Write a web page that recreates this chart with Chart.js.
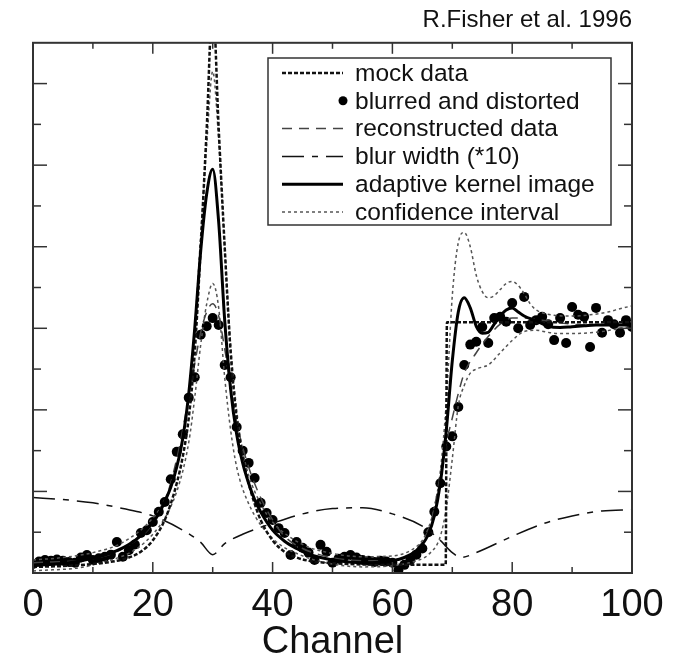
<!DOCTYPE html>
<html>
<head>
<meta charset="utf-8">
<script src="https://cdn.jsdelivr.net/npm/chart.js@4.4.0/dist/chart.umd.min.js"></script>
<style>
  html, body { margin: 0; padding: 0; background: #fff; }
  #wrap { width: 675px; height: 665px; }
</style>
</head>
<body>
<div id="wrap"><canvas id="fisher" width="675" height="665"></canvas></div>
<script>
// --- data (y in tick units, 13 intervals on the axis) ---
const xTicks = [0, 20, 40, 60, 80, 100];

const mockX = [0, 5, 10, 14, 16, 18, 20, 22, 23, 24, 25, 26, 27, 28, 29, 30, 31, 32, 33, 34, 35, 36, 37, 38, 40, 42, 44, 46, 50, 55, 60, 65, 68.9, 69.1, 75, 80, 85, 90, 95, 100];
const mockY = [0.15, 0.17, 0.22, 0.3, 0.38, 0.52, 0.8, 1.3, 1.7, 2.2, 2.85, 3.8, 5.4, 8.0, 10.9, 14, 10.9, 8.0, 5.4, 3.8, 2.85, 2.2, 1.7, 1.3, 0.8, 0.52, 0.38, 0.3, 0.24, 0.21, 0.2, 0.2, 0.2, 6.15, 6.15, 6.15, 6.15, 6.15, 6.15, 6.15];

// blurred and distorted: one point per channel 0..100
const blurredY = [
  0.22, 0.28, 0.32, 0.3, 0.33, 0.3, 0.27, 0.25, 0.38, 0.44,
  0.32, 0.36, 0.4, 0.45, 0.76, 0.4, 0.56, 0.7, 0.98, 1.05,
  1.25, 1.5, 1.74, 2.3, 2.97, 3.4, 4.3, 4.8, 5.84, 6.05,
  6.25, 6.08, 5.1, 4.8, 3.58, 3.0, 2.7, 2.33, 1.72, 1.47,
  1.3, 1.1, 0.98, 0.44, 0.76, 0.62, 0.5, 0.32, 0.69, 0.52,
  0.25, 0.35, 0.4, 0.44, 0.38, 0.32, 0.3, 0.27, 0.3, 0.28,
  0.25, 0.07, 0.2, 0.32, 0.45, 0.6, 1.0, 1.5, 2.2, 3.1,
  3.35, 4.07, 5.1, 5.6, 5.67, 6.03, 5.64, 6.25, 6.28, 6.16,
  6.62, 6.0, 6.77, 6.08, 6.2, 6.28, 6.1, 5.71, 6.25, 5.64,
  6.52, 6.33, 6.28, 5.54, 6.5, 5.89, 6.2, 6.1, 5.89, 6.2,
  6.03
];

const reconX = [0, 10, 15, 20, 22, 24, 26, 28, 29, 30, 31, 32, 34, 36, 38, 40, 42, 45, 50, 55, 60, 63, 65, 66, 67, 68, 69, 70, 71, 72, 74, 76, 78, 80, 82, 85, 90, 95, 100];
const reconY = [0.25, 0.35, 0.6, 1.2, 1.75, 2.8, 4.3, 5.9, 6.4, 6.6, 6.3, 5.5, 3.7, 2.6, 1.85, 1.3, 0.9, 0.6, 0.38, 0.3, 0.3, 0.45, 0.75, 1.05, 1.6, 2.4, 3.2, 3.8, 4.4, 4.9, 5.4, 5.8, 6.1, 6.25, 6.25, 6.2, 6.1, 6.08, 6.08];

const widthX = [0, 5, 10, 15, 20, 25, 28, 30, 32, 35, 40, 45, 50, 55, 60, 65, 68, 70, 71.5, 74, 80, 85, 90, 95, 100];
const widthY = [1.85, 1.8, 1.72, 1.58, 1.4, 1.05, 0.75, 0.45, 0.72, 0.95, 1.22, 1.45, 1.58, 1.6, 1.45, 1.15, 0.8, 0.5, 0.38, 0.5, 0.9, 1.2, 1.4, 1.52, 1.55];

const kernelX = [0, 2, 4, 6, 8, 10, 12, 14, 16, 18, 20, 21, 22, 23, 24, 25, 26, 27, 28, 29, 30, 31, 32, 33, 34, 35, 36, 37, 38, 40, 42, 44, 46, 48, 50, 52, 54, 56, 58, 60, 62, 64, 65, 66, 67, 68, 69, 70, 71, 72, 73, 74, 75, 76, 77, 78, 79, 80, 81, 82, 84, 86, 88, 90, 92, 94, 96, 98, 100];
const kernelY = [0.18, 0.2, 0.22, 0.25, 0.3, 0.36, 0.44, 0.55, 0.7, 0.92, 1.25, 1.45, 1.75, 2.1, 2.6, 3.3, 4.4, 6.0, 7.9, 9.3, 9.9, 8.6, 6.2, 4.5, 3.4, 2.7, 2.2, 1.8, 1.5, 1.05, 0.78, 0.6, 0.46, 0.38, 0.32, 0.28, 0.26, 0.25, 0.27, 0.3, 0.38, 0.55, 0.7, 0.95, 1.4, 2.2, 3.5, 5.2, 6.4, 6.75, 6.5, 6.05, 5.88, 5.9, 6.1, 6.3, 6.45, 6.5, 6.4, 6.3, 6.18, 6.05, 6.02, 6.04, 6.06, 6.08, 6.08, 6.08, 6.08];

const confHiX = [0, 5, 10, 15, 20, 22, 24, 25, 26, 27, 28, 29, 30, 31, 32, 33, 34, 35, 36, 38, 40, 45, 50, 55, 60, 63, 65, 66, 67, 68, 69, 70, 71, 72, 73, 74, 75, 76, 77, 78, 79, 80, 81, 82, 83, 84, 85, 87, 90, 93, 96, 98, 100];
const confHiY = [0.32, 0.38, 0.5, 0.75, 1.35, 1.8, 2.6, 3.3, 4.3, 6.0, 8.3, 10.5, 12.3, 10.6, 8.0, 5.6, 4.0, 3.0, 2.4, 1.7, 1.25, 0.7, 0.48, 0.4, 0.42, 0.55, 0.8, 1.1, 1.6, 2.5, 4.2, 6.8, 8.1, 8.35, 8.0, 7.3, 6.9, 6.75, 6.8, 6.95, 7.1, 7.15, 7.05, 6.85, 6.6, 6.45, 6.38, 6.32, 6.3, 6.33, 6.4, 6.48, 6.55];

const confLoX = [0, 10, 20, 24, 26, 27, 28, 29, 30, 31, 32, 33, 34, 36, 40, 45, 50, 55, 60, 64, 66, 68, 69, 70, 71, 72, 73, 74, 75, 76, 78, 80, 82, 84, 86, 88, 90, 92, 95, 98, 100];
const confLoY = [0.05, 0.2, 0.95, 2.0, 3.2, 4.3, 5.6, 6.6, 7.1, 6.5, 4.8, 3.5, 2.6, 1.7, 0.85, 0.42, 0.22, 0.15, 0.18, 0.3, 0.45, 0.9, 1.6, 2.8, 4.1, 4.6, 4.9, 5.0, 5.05, 5.1, 5.4, 5.7, 5.92, 5.95, 5.9, 5.87, 5.87, 5.88, 5.92, 6.0, 6.05];

const toPoints = (xs, ys) => ys.map((v, i) => ({ x: xs[i], y: v }));

const FONT = "'Liberation Sans', Arial, Helvetica, sans-serif";

// linienstile der reihen
const datasets = [
  {
    label: 'adaptive kernel image',
    data: toPoints(kernelX, kernelY),
    borderColor: '#000', borderWidth: 3, order: 0
  },
  {
    label: 'mock data',
    data: toPoints(mockX, mockY),
    borderColor: '#111', borderWidth: 2.5, borderDash: [4, 2], order: 1
  },
  {
    label: 'reconstructed data',
    data: toPoints(reconX, reconY),
    borderColor: '#444', borderWidth: 1.5, borderDash: [10, 7], order: 2
  },
  {
    label: 'confidence interval',
    data: toPoints(confHiX, confHiY),
    borderColor: '#555', borderWidth: 1.5, borderDash: [3, 3], order: 3
  },
  {
    label: '',
    data: toPoints(confLoX, confLoY),
    borderColor: '#555', borderWidth: 1.5, borderDash: [3, 3], order: 3
  },
  {
    label: 'blur width (*10)',
    data: toPoints(widthX, widthY),
    borderColor: '#111', borderWidth: 1.5, borderDash: [22, 8, 6, 8], order: 4
  },
  {
    label: 'blurred and distorted',
    data: blurredY.map((v, i) => ({ x: i, y: v })),
    showLine: false, pointRadius: 5, pointBackgroundColor: '#000', pointBorderWidth: 0, order: 5
  }
];
datasets.forEach(d => {
  if (d.showLine !== false) { d.pointRadius = 0; d.cubicInterpolationMode = 'monotone'; }
  d.fill = false;
});

// reihenfolge im legendenkasten
const legendOrder = ['mock data', 'blurred and distorted', 'reconstructed data', 'blur width (*10)', 'adaptive kernel image', 'confidence interval'];

// rahmen + ticks nach innen, auf allen vier seiten
const frameTicks = {
  id: 'frameTicks',
  afterDatasetsDraw(chart) {
    const { ctx, chartArea: a, scales: { x, y } } = chart;
    const seg = (x1, y1, x2, y2) => { ctx.beginPath(); ctx.moveTo(x1, y1); ctx.lineTo(x2, y2); ctx.stroke(); };
    ctx.save();
    ctx.strokeStyle = '#333';
    ctx.lineWidth = 1.5;
    for (let v = 10; v < 100; v += 10) {
      const px = x.getPixelForValue(v);
      const len = v % 20 === 0 ? 11 : 6;
      seg(px, a.bottom, px, a.bottom - len);
      seg(px, a.top, px, a.top + len);
    }
    for (let v = 1; v < 13; v++) {
      const py = y.getPixelForValue(v);
      const len = v % 2 === 0 ? 14 : 8;
      seg(a.left, py, a.left + len, py);
      seg(a.right, py, a.right - len, py);
    }
    ctx.lineWidth = 2;
    ctx.strokeRect(a.left, a.top, a.right - a.left, a.bottom - a.top);
    ctx.restore();
  }
};

// legendenkasten oben rechts im plot
const legendBox = {
  id: 'legendBox',
  afterDraw(chart) {
    const { ctx } = chart;
    const box = { x: 268, y: 58, w: 343, h: 167 };
    const rowH = 27.8, sx0 = 282, sx1 = 343, tx = 355;
    ctx.save();
    ctx.fillStyle = '#fff';
    ctx.fillRect(box.x, box.y, box.w, box.h);
    ctx.strokeStyle = '#333';
    ctx.lineWidth = 1.5;
    ctx.strokeRect(box.x, box.y, box.w, box.h);
    ctx.font = '24.5px ' + FONT;
    ctx.textBaseline = 'middle';
    ctx.fillStyle = '#111';
    legendOrder.forEach((name, i) => {
      const ds = chart.data.datasets.find(d => d.label === name);
      const cy = box.y + 15 + i * rowH;
      if (ds.showLine === false) {
        ctx.beginPath();
        ctx.arc(sx1, cy, ds.pointRadius - 0.5, 0, Math.PI * 2);
        ctx.fillStyle = '#000';
        ctx.fill();
      } else {
        ctx.strokeStyle = ds.borderColor;
        ctx.lineWidth = ds.borderWidth;
        ctx.setLineDash(ds.borderDash || []);
        ctx.beginPath();
        ctx.moveTo(sx0, cy);
        ctx.lineTo(sx1, cy);
        ctx.stroke();
        ctx.setLineDash([]);
      }
      ctx.fillStyle = '#111';
      ctx.fillText(name, tx, cy + 1);
    });
    ctx.restore();
  }
};

new Chart(document.getElementById('fisher'), {
  type: 'line',
  data: { datasets },
  options: {
    responsive: false,
    animation: false,
    layout: { padding: { left: 33, right: 43, top: 0, bottom: 0 } },
    plugins: {
      legend: { display: false },
      tooltip: { enabled: false },
      title: {
        display: true,
        text: 'R.Fisher et al. 1996',
        align: 'end',
        color: '#111',
        font: { family: FONT, size: 24, weight: 'normal' },
        padding: { top: 6, bottom: 8 }
      }
    },
    scales: {
      x: {
        type: 'linear', min: 0, max: 100,
        grid: { display: false, drawTicks: false },
        border: { display: false },
        afterBuildTicks: s => { s.ticks = xTicks.map(v => ({ value: v })); },
        afterFit: s => { s.height = 92; },
        ticks: { color: '#111', padding: 10, maxRotation: 0, font: { family: FONT, size: 38 } },
        title: { display: true, text: 'Channel', color: '#111', padding: 0, font: { family: FONT, size: 38 } }
      },
      y: { display: false, min: 0, max: 13 }
    }
  },
  plugins: [frameTicks, legendBox]
});
</script>
</body>
</html>
